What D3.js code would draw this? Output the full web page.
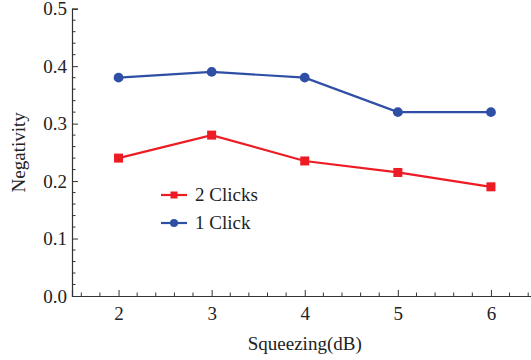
<!DOCTYPE html>
<html><head><meta charset="utf-8">
<script src="https://cdn.jsdelivr.net/npm/d3@7"></script>
<style>body{margin:0;background:#fff;font-family:"Liberation Serif",serif}svg{display:block}</style>
</head><body>
<script>
const squeezing = [2, 3, 4, 5, 6];
const twoClicks = [0.24, 0.28, 0.235, 0.215, 0.19];
const oneClick = [0.38, 0.39, 0.38, 0.32, 0.32];
const xTicks = [2, 3, 4, 5, 6];
const yTicks = [0.0, 0.1, 0.2, 0.3, 0.4, 0.5];
const seriesNames = ["2 Clicks", "1 Click"];

const W = 531, H = 360;
const FONT = "Liberation Serif";
const FS = 19;
const svg = d3.select("body").append("svg").attr("width", W).attr("height", H)
  .attr("font-family", FONT);
const x = d3.scaleLinear().domain([1.5, 6.5]).range([72, 537.5]);
const y = d3.scaleLinear().domain([0, 0.5]).range([296, 8.7]);
const axisCol = "#333";

const xMinor = d3.range(1.6, 6.5, 0.2).filter(v => Math.abs(v - Math.round(v)) > 1e-6);
const yMinor = d3.range(0.02, 0.5, 0.02).filter(v => Math.abs(v * 10 - Math.round(v * 10)) > 1e-6);

const gx = svg.append("g").attr("transform", `translate(0,${y(0)})`);
gx.call(d3.axisBottom(x).tickValues(xTicks).tickSize(-6).tickPadding(10.5).tickFormat(d3.format("d")));
gx.selectAll(".minor").data(xMinor).enter().append("line")
  .attr("x1", d => x(d)).attr("x2", d => x(d)).attr("y1", 0).attr("y2", -3.5).attr("stroke", axisCol);

const gy = svg.append("g").attr("transform", `translate(${x(1.5)},0)`);
gy.call(d3.axisLeft(y).tickValues(yTicks).tickSize(-6).tickPadding(5).tickFormat(d3.format(".1f")));
gy.selectAll(".minor").data(yMinor).enter().append("line")
  .attr("y1", d => y(d)).attr("y2", d => y(d)).attr("x1", 0).attr("x2", 3.5).attr("stroke", axisCol);

[gx, gy].forEach(g => {
  g.attr("font-family", FONT).attr("font-size", FS);
  g.select(".domain").attr("stroke", axisCol).attr("stroke-width", 1.2);
  g.selectAll(".tick line").attr("stroke", axisCol);
  g.selectAll("text").attr("font-family", FONT).attr("font-size", FS).attr("fill", "#222");
});

svg.append("text").attr("x", x(4)).attr("y", 350).attr("text-anchor", "middle")
  .attr("font-family", FONT).attr("font-size", FS).attr("fill", "#222").text("Squeezing(dB)");
svg.append("text").attr("transform", `translate(25,${y(0.25)}) rotate(-90)`).attr("text-anchor", "middle")
  .attr("font-family", FONT).attr("font-size", FS).attr("fill", "#222").text("Negativity");

const red = "#ED1C24", blue = "#2E4FA5";
const line = d3.line().x((d, i) => x(squeezing[i])).y(d => y(d));

svg.append("path").datum(oneClick).attr("d", line).attr("fill", "none").attr("stroke", blue).attr("stroke-width", 2.2);
svg.selectAll(".c").data(oneClick).enter().append("circle")
  .attr("cx", (d, i) => x(squeezing[i])).attr("cy", d => y(d)).attr("r", 4.9).attr("fill", blue);

svg.append("path").datum(twoClicks).attr("d", line).attr("fill", "none").attr("stroke", red).attr("stroke-width", 2.2);
svg.selectAll(".s").data(twoClicks).enter().append("rect")
  .attr("x", (d, i) => x(squeezing[i]) - 4.5).attr("y", d => y(d) - 4.5).attr("width", 9).attr("height", 9).attr("fill", red);

const leg = svg.append("g");
const items = [{name: seriesNames[0], col: red, sym: "sq", y: 195}, {name: seriesNames[1], col: blue, sym: "ci", y: 223}];
items.forEach(it => {
  leg.append("line").attr("x1", 161).attr("x2", 187).attr("y1", it.y).attr("y2", it.y).attr("stroke", it.col).attr("stroke-width", 2.2);
  if (it.sym === "sq") leg.append("rect").attr("x", 174 - 3.5).attr("y", it.y - 3.5).attr("width", 7).attr("height", 7).attr("fill", it.col);
  else leg.append("circle").attr("cx", 174).attr("cy", it.y).attr("r", 4).attr("fill", it.col);
  leg.append("text").attr("x", 195).attr("y", it.y + 5.5).attr("font-family", FONT).attr("font-size", FS).attr("fill", "#222").text(it.name);
});
</script>
</body></html>
